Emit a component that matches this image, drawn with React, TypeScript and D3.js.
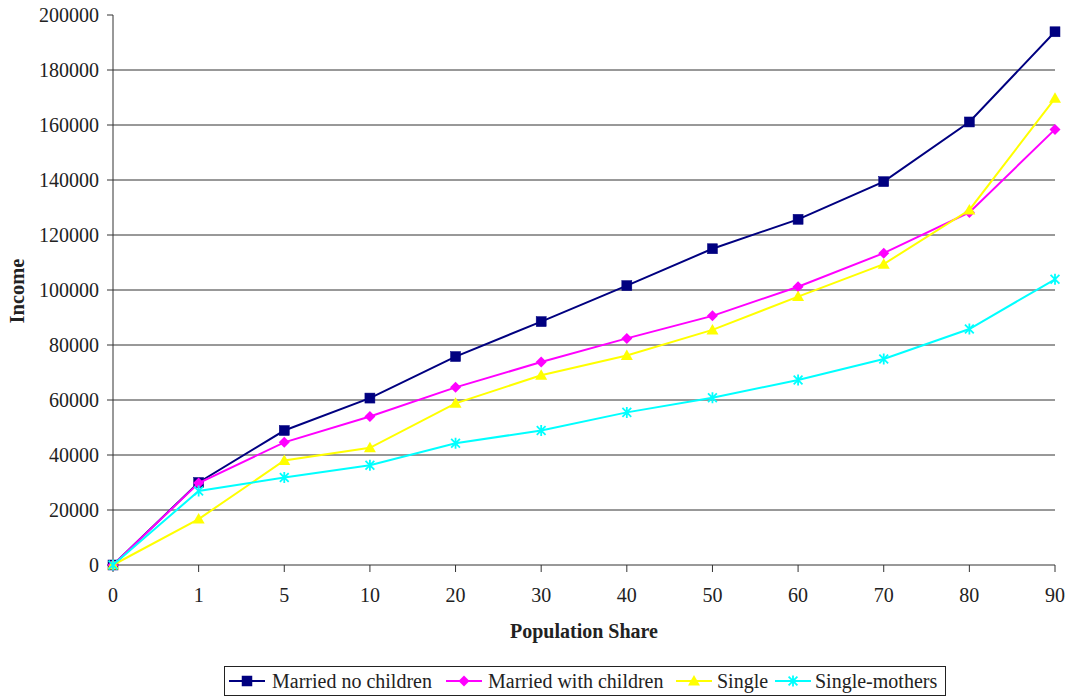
import React from "react";
import * as d3 from "d3";

const shares = ["0", "1", "5", "10", "20", "30", "40", "50", "60", "70", "80", "90"];
const marriedNoChildren = [0, 30000, 48900, 60700, 75800, 88500, 101600, 115000, 125700, 139400, 161100, 193900];
const marriedWithChildren = [0, 29800, 44600, 54000, 64600, 73800, 82400, 90600, 101200, 113400, 128200, 158400];
const single = [0, 16700, 38000, 42600, 58800, 69000, 76200, 85500, 97600, 109400, 129100, 169700];
const singleMothers = [0, 26900, 31800, 36300, 44300, 48900, 55500, 60800, 67300, 74900, 85800, 103900];
const yTicks = [0, 20000, 40000, 60000, 80000, 100000, 120000, 140000, 160000, 180000, 200000];

type Marker = "square" | "diamond" | "triangle" | "star";

const series: {name: string; values: number[]; color: string; marker: Marker}[] = [
	{name: "Married no children", values: marriedNoChildren, color: "#000080", marker: "square"},
	{name: "Married with children", values: marriedWithChildren, color: "#FF00FF", marker: "diamond"},
	{name: "Single", values: single, color: "#FFFF00", marker: "triangle"},
	{name: "Single-mothers", values: singleMothers, color: "#00FFFF", marker: "star"},
];

const W = 1074;
const H = 700;
const left = 113;
const right = 1055;
const top = 15;
const bottom = 565;
const font = "'Liberation Serif', 'Times New Roman', serif";

const x = d3.scalePoint<string>().domain(shares).range([left, right]).padding(0);
const y = d3.scaleLinear().domain([0, 200000]).range([bottom, top]);

const MarkerShape: React.FC<{kind: Marker; cx: number; cy: number; color: string}> = ({kind, cx, cy, color}) => {
	if (kind === "square") {
		return <rect x={cx - 5} y={cy - 5} width={10} height={10} fill={color} stroke={color} strokeWidth={0.5} />;
	}
	if (kind === "diamond") {
		return <path d={`M${cx},${cy - 5.5}L${cx + 5.5},${cy}L${cx},${cy + 5.5}L${cx - 5.5},${cy}Z`} fill={color} />;
	}
	if (kind === "triangle") {
		return <path d={`M${cx},${cy - 6}L${cx + 6},${cy + 4.5}L${cx - 6},${cy + 4.5}Z`} fill={color} />;
	}
	// asterisk: vertical stroke plus an X
	const r = 5.5;
	const d = r * 0.8;
	return (
		<path
			d={`M${cx},${cy - r}L${cx},${cy + r}M${cx - d},${cy - d}L${cx + d},${cy + d}M${cx - d},${cy + d}L${cx + d},${cy - d}`}
			stroke={color}
			strokeWidth={1.8}
			fill="none"
		/>
	);
};

const legendItems = [
	{lineX: 229, textX: 272},
	{lineX: 446, textX: 488},
	{lineX: 676, textX: 717},
	{lineX: 775, textX: 815},
];

export default function App() {
	const line = d3
		.line<number>()
		.x((_, i) => x(shares[i]) as number)
		.y((d) => y(d));

	return (
		<svg width={W} height={H} style={{position: "absolute", left: 0, top: 0, background: "#fff"}} fontFamily={font}>
			{/* gridlines */}
			{yTicks.slice(1, -1).map((t) => (
				<line key={t} x1={left} x2={right} y1={y(t)} y2={y(t)} stroke="#333" strokeWidth={1} />
			))}
			{/* y axis */}
			<line x1={left} x2={left} y1={top} y2={bottom} stroke="#333" strokeWidth={1} />
			{yTicks.map((t) => (
				<g key={t}>
					<line x1={left - 6} x2={left} y1={y(t)} y2={y(t)} stroke="#333" />
					<text x={left - 14} y={y(t)} dy="0.35em" textAnchor="end" fontSize={20} fill="#222">
						{t}
					</text>
				</g>
			))}
			{/* x axis */}
			<line x1={left} x2={right} y1={bottom} y2={bottom} stroke="#333" strokeWidth={1} />
			{shares.map((s) => (
				<g key={s}>
					<line x1={x(s)} x2={x(s)} y1={bottom} y2={bottom + 7} stroke="#333" />
					<text x={x(s)} y={602} textAnchor="middle" fontSize={20} fill="#222">
						{s}
					</text>
				</g>
			))}
			<text x={584} y={638} textAnchor="middle" fontSize={20} fontWeight="bold" fill="#222">
				Population Share
			</text>
			<text transform={`translate(24,291) rotate(-90)`} textAnchor="middle" fontSize={20.5} fontWeight="bold" fill="#222">
				Income
			</text>
			{/* series */}
			{series.map((s) => (
				<g key={s.name}>
					<path d={line(s.values) as string} fill="none" stroke={s.color} strokeWidth={2} />
					{s.values.map((v, i) => (
						<MarkerShape key={i} kind={s.marker} cx={x(shares[i]) as number} cy={y(v)} color={s.color} />
					))}
				</g>
			))}
			{/* legend */}
			<rect x={224.5} y={666.5} width={721} height={29} fill="#fff" stroke="#222" strokeWidth={1} />
			{series.map((s, i) => (
				<g key={s.name}>
					<line
						x1={legendItems[i].lineX}
						x2={legendItems[i].lineX + 36}
						y1={681}
						y2={681}
						stroke={s.color}
						strokeWidth={2}
					/>
					<MarkerShape kind={s.marker} cx={legendItems[i].lineX + 18} cy={681} color={s.color} />
					<text x={legendItems[i].textX} y={688} fontSize={20} fill="#222">
						{s.name}
					</text>
				</g>
			))}
		</svg>
	);
}
